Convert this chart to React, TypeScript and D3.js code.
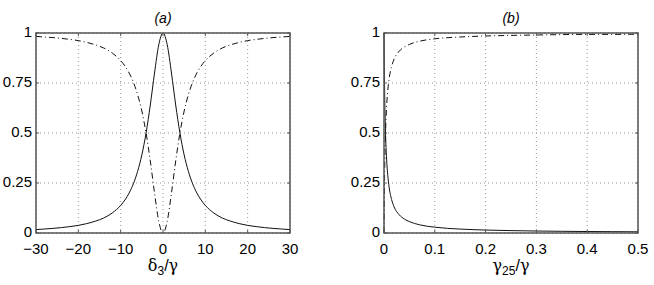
import React from 'react'
import * as d3 from 'd3'

// panel (a): detuning sweep
const detuning = [-30, -28, -26, -24, -22, -20, -18, -16, -14, -12, -10, -9, -8, -7, -6, -5, -4, -3, -2, -1, 0,
  1, 2, 3, 4, 5, 6, 7, 8, 9, 10, 12, 14, 16, 18, 20, 22, 24, 26, 28, 30]
const peakA = [0.017, 0.02, 0.023, 0.027, 0.032, 0.038, 0.047, 0.059, 0.075, 0.1, 0.138, 0.165, 0.2, 0.246, 0.308, 0.39, 0.5, 0.64, 0.8, 0.941, 1,
  0.941, 0.8, 0.64, 0.5, 0.39, 0.308, 0.246, 0.2, 0.165, 0.138, 0.1, 0.075, 0.059, 0.047, 0.038, 0.032, 0.027, 0.023, 0.02, 0.017]
const dipA = [0.983, 0.98, 0.977, 0.973, 0.968, 0.962, 0.953, 0.941, 0.925, 0.9, 0.862, 0.835, 0.8, 0.754, 0.692, 0.61, 0.5, 0.36, 0.2, 0.059, 0,
  0.059, 0.2, 0.36, 0.5, 0.61, 0.692, 0.754, 0.8, 0.835, 0.862, 0.9, 0.925, 0.941, 0.953, 0.962, 0.968, 0.973, 0.977, 0.98, 0.983]

// panel (b): decay rate sweep
const decay = [0, 0.001, 0.002, 0.003, 0.005, 0.0075, 0.01, 0.015, 0.02, 0.03, 0.04, 0.05, 0.07, 0.1, 0.15, 0.2, 0.25, 0.3, 0.35, 0.4, 0.45, 0.5]
const fallB = [1, 0.75, 0.6, 0.5, 0.375, 0.286, 0.231, 0.167, 0.13, 0.091, 0.07, 0.057, 0.041, 0.029, 0.0196, 0.0148, 0.0119, 0.0099, 0.0085, 0.0074, 0.0066, 0.006]
const riseB = [0, 0.25, 0.4, 0.5, 0.625, 0.714, 0.769, 0.833, 0.87, 0.909, 0.93, 0.943, 0.959, 0.971, 0.98, 0.985, 0.988, 0.99, 0.992, 0.993, 0.993, 0.994]

const yTicks = [0, 0.25, 0.5, 0.75, 1]
const yTickLabels = ['0', '0.25', '0.5', '0.75', '1']
const xTicksA = [-30, -20, -10, 0, 10, 20, 30]
const xTicksB = [0, 0.1, 0.2, 0.3, 0.4, 0.5]

const font = 'Liberation Sans, Arial, Helvetica, sans-serif'

function Panel(props: any) {
  const {left, xs, solid, dashed, xDomain, xTicks, fmt, title, xlabel} = props
  const top = 33, bottom = 233, width = 254
  const x = d3.scaleLinear().domain(xDomain).range([left, left + width])
  const y = d3.scaleLinear().domain([0, 1]).range([bottom, top])
  const line = d3.line<number>()
    .x((d, i) => x(xs[i]))
    .y(d => y(d))
    .curve(d3.curveMonotoneX)

  return (
    <g>
      {/* grid */}
      {xTicks.map((t: number) => (
        <line key={'gx' + t} x1={x(t)} x2={x(t)} y1={top} y2={bottom}
          stroke="#999" strokeWidth={1} strokeDasharray="1,3" />
      ))}
      {yTicks.map(t => (
        <line key={'gy' + t} x1={left} x2={left + width} y1={y(t)} y2={y(t)}
          stroke="#999" strokeWidth={1} strokeDasharray="1,3" />
      ))}
      <path d={line(solid) || ''} fill="none" stroke="#111" strokeWidth={1} />
      <path d={line(dashed) || ''} fill="none" stroke="#111" strokeWidth={1} strokeDasharray="6,3,1,3" />
      <rect x={left} y={top} width={width} height={bottom - top} fill="none" stroke="#555" strokeWidth={1.5} />
      {/* ticks */}
      {xTicks.map((t: number) => (
        <g key={'tx' + t}>
          <line x1={x(t)} x2={x(t)} y1={bottom} y2={bottom - 3} stroke="#555" />
          <line x1={x(t)} x2={x(t)} y1={top} y2={top + 3} stroke="#555" />
          <text x={x(t)} y={254} textAnchor="middle" fontSize={15} fontFamily={font}>{fmt(t)}</text>
        </g>
      ))}
      {yTicks.map((t, i) => (
        <g key={'ty' + t}>
          <line x1={left} x2={left + 3} y1={y(t)} y2={y(t)} stroke="#555" />
          <line x1={left + width} x2={left + width - 3} y1={y(t)} y2={y(t)} stroke="#555" />
          <text x={left - 4} y={y(t) + 4} textAnchor="end" fontSize={15} fontFamily={font}>{yTickLabels[i]}</text>
        </g>
      ))}
      <text x={left + width / 2} y={23} textAnchor="middle" fontSize={14} fontStyle="italic" fontFamily={font}>{title}</text>
      <text x={left + width / 2} y={271} textAnchor="middle" fontSize={16} fontFamily={font}>
        <tspan fontFamily="DejaVu Serif, serif">{xlabel[0]}</tspan>
        <tspan fontSize={12} dy={4}>{xlabel[1]}</tspan>
        <tspan dy={-4}>/</tspan>
        <tspan fontFamily="DejaVu Serif, serif">γ</tspan>
      </text>
    </g>
  )
}

export default function App() {
  const fmtA = (t: number) => (t < 0 ? '\u2212' + Math.abs(t) : String(t))
  const fmtB = (t: number) => String(t)
  return (
    <svg width={654} height={285} style={{position: 'absolute', left: 0, top: 0, background: '#fff'}}>
      <Panel left={36} xs={detuning} solid={peakA} dashed={dipA} xDomain={[-30, 30]}
        xTicks={xTicksA} fmt={fmtA} title="(a)" xlabel={['δ', '3']} />
      <Panel left={384} xs={decay} solid={fallB} dashed={riseB} xDomain={[0, 0.5]}
        xTicks={xTicksB} fmt={fmtB} title="(b)" xlabel={['γ', '25']} />
    </svg>
  )
}
